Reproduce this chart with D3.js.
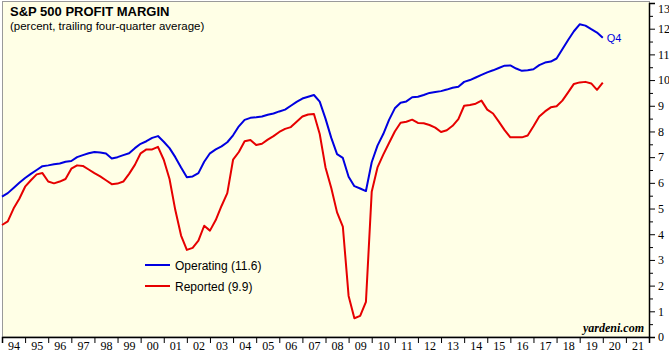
<!DOCTYPE html>
<html lang="en">
<head>
    <meta charset="UTF-8">
    <title>S&amp;P 500 Profit Margin</title>
    <script src="https://d3js.org/d3.v7.min.js"></script>
    <style>
        body { margin: 0; background: #fff; }
        .axis path, .axis line { stroke: #000; }
        .axis text { font-family: "Liberation Serif", "Times New Roman", serif; font-size: 12px; fill: #000; }
    </style>
</head>
<body>
    <svg id="chart" width="669" height="359"></svg>
    <script>
        // quarterly, trailing four-quarter average, starting 1993 Q4
        const startYear = 1994.0;
        const operating = [
            5.46, 5.6, 5.8, 6.0, 6.19,
            6.35, 6.5, 6.65, 6.68,
            6.72, 6.75, 6.82, 6.85,
            7.0, 7.08, 7.15, 7.2,
            7.18, 7.14, 6.95, 7.0,
            7.08, 7.15, 7.35, 7.52,
            7.62, 7.75, 7.82, 7.6,
            7.35, 7.0, 6.6, 6.22,
            6.25, 6.38, 6.82, 7.15,
            7.3, 7.42, 7.58, 7.85,
            8.2, 8.45, 8.53, 8.55,
            8.58, 8.65, 8.7, 8.78,
            8.85, 9.0, 9.15, 9.28,
            9.35, 9.42, 9.16, 8.5,
            7.75, 7.12, 6.97, 6.24,
            5.87, 5.78, 5.68, 6.8,
            7.45, 7.9, 8.45, 8.9,
            9.12, 9.17, 9.33, 9.35,
            9.42, 9.5, 9.54, 9.57,
            9.63, 9.7, 9.74, 9.93,
            10.0, 10.1, 10.2, 10.3,
            10.38, 10.47, 10.56, 10.57,
            10.45, 10.36, 10.38, 10.42,
            10.58, 10.68, 10.72, 10.84,
            11.2, 11.56, 11.9, 12.17,
            12.12, 11.98, 11.85, 11.65
        ];
        const reported = [
            4.36, 4.5, 5.0, 5.38, 5.85,
            6.1, 6.33, 6.38, 6.05,
            5.98, 6.05, 6.15, 6.55,
            6.68, 6.66, 6.52, 6.38,
            6.25, 6.1, 5.95, 5.97,
            6.05, 6.35, 6.7, 7.15,
            7.3, 7.3, 7.4, 6.9,
            6.15, 4.94, 3.95, 3.39,
            3.47, 3.75, 4.33, 4.14,
            4.55, 5.1, 5.6, 6.9,
            7.2, 7.62, 7.67, 7.47,
            7.52, 7.68, 7.82, 7.98,
            8.1, 8.17, 8.38, 8.58,
            8.66, 8.68, 7.9, 6.6,
            5.8, 4.85, 4.3, 1.6,
            0.73, 0.82, 1.37, 5.65,
            6.6, 7.1, 7.55, 8.0,
            8.34, 8.38, 8.46, 8.33,
            8.32, 8.25, 8.15, 7.98,
            8.05, 8.22, 8.48, 9.0,
            9.03, 9.08, 9.2, 8.85,
            8.7, 8.38, 8.05, 7.77,
            7.77, 7.77, 7.84, 8.2,
            8.58, 8.78, 8.94, 8.98,
            9.2, 9.52, 9.85, 9.91,
            9.93, 9.87, 9.62, 9.9
        ];
        const years = d3.range(1994, 2023);
        const yTicks = d3.range(0, 14);
        const legendItems = [
            { name: "Operating (11.6)", color: "#0000e0" },
            { name: "Reported (9.9)", color: "#e60000" }
        ];

        const svg = d3.select("#chart");
        const plotLeft = 2, plotRight = 649, plotTop = 2, plotBottom = 337;

        const x = d3.scaleLinear().domain([1994, 2022]).range([plotLeft, plotRight]);
        const y = d3.scaleLinear().domain([0, 13]).range([plotBottom, 3]);

        // plot background
        svg.append("rect")
            .attr("x", plotLeft + 0.5).attr("y", plotTop - 0.5)
            .attr("width", plotRight - plotLeft).attr("height", plotBottom - plotTop + 0.5)
            .attr("fill", "#ffffe6")
            .attr("stroke", "#9a9a9a")
            .attr("stroke-width", 1);

        // right axis, major and minor ticks
        svg.append("g")
            .attr("class", "axis")
            .attr("transform", `translate(${plotRight},0)`)
            .call(d3.axisRight(y).tickValues(yTicks).tickSize(6).tickPadding(3).tickFormat(d3.format("d")))
            .call(g => g.select(".domain").attr("stroke-width", 1.5))
            .call(g => g.selectAll(".tick text").filter(d => d === 13).attr("dy", "0.8em"));
        svg.append("g")
            .attr("class", "axis")
            .attr("transform", `translate(${plotRight},0)`)
            .call(d3.axisRight(y).tickValues(yTicks.slice(0, -1).map(d => d + 0.5)).tickSize(4).tickFormat(""))
            .call(g => g.select(".domain").remove());

        // bottom axis: ticks at year boundaries, labels mid-year
        svg.append("g")
            .attr("class", "axis")
            .attr("transform", `translate(0,${plotBottom})`)
            .call(d3.axisBottom(x).tickValues(years).tickSize(6).tickFormat(""))
            .call(g => g.select(".domain").attr("stroke-width", 1.5));
        svg.append("g")
            .attr("class", "axis")
            .attr("transform", `translate(0,${plotBottom})`)
            .call(d3.axisBottom(x).tickValues(years.slice(0, -1).map(d => d + 0.5)).tickSize(0).tickPadding(4)
                .tickFormat(d => String(Math.floor(d) % 100).padStart(2, "0")))
            .call(g => g.select(".domain").remove());

        const line = d3.line()
            .x((d, i) => x(startYear + i / 4))
            .y(d => y(d));

        svg.append("path")
            .datum(reported)
            .attr("fill", "none")
            .attr("stroke", legendItems[1].color)
            .attr("stroke-width", 2)
            .attr("stroke-linejoin", "round")
            .attr("d", line);

        svg.append("path")
            .datum(operating)
            .attr("fill", "none")
            .attr("stroke", legendItems[0].color)
            .attr("stroke-width", 2)
            .attr("stroke-linejoin", "round")
            .attr("d", line);

        // Q4 label at end of operating line
        svg.append("text")
            .attr("x", x(startYear + (operating.length - 1) / 4) + 4)
            .attr("y", y(operating[operating.length - 1]) + 4)
            .attr("font-family", "Liberation Sans, Arial, sans-serif")
            .attr("font-size", 11)
            .attr("fill", legendItems[0].color)
            .text("Q4");

        // titles
        svg.append("text")
            .attr("x", 10).attr("y", 16)
            .attr("font-family", "Liberation Sans, Arial, sans-serif")
            .attr("font-size", 13).attr("font-weight", "bold")
            .text("S&P 500 PROFIT MARGIN");
        svg.append("text")
            .attr("x", 10).attr("y", 30)
            .attr("font-family", "Liberation Sans, Arial, sans-serif")
            .attr("font-size", 11.5)
            .text("(percent, trailing four-quarter average)");

        // legend
        const legend = svg.append("g").attr("transform", "translate(145,265)");
        legendItems.forEach((d, i) => {
            const row = legend.append("g").attr("transform", `translate(0,${i * 21})`);
            row.append("line")
                .attr("x1", 0).attr("x2", 25)
                .attr("stroke", d.color).attr("stroke-width", 2);
            row.append("text")
                .attr("x", 30).attr("y", 4.5)
                .attr("font-family", "Liberation Sans, Arial, sans-serif")
                .attr("font-size", 12)
                .text(d.name);
        });

        svg.append("text")
            .attr("x", 644).attr("y", 332)
            .attr("text-anchor", "end")
            .attr("font-family", "Liberation Serif, Times New Roman, serif")
            .attr("font-size", 12).attr("font-weight", "bold").attr("font-style", "italic")
            .text("yardeni.com");
    </script>
</body>
</html>
